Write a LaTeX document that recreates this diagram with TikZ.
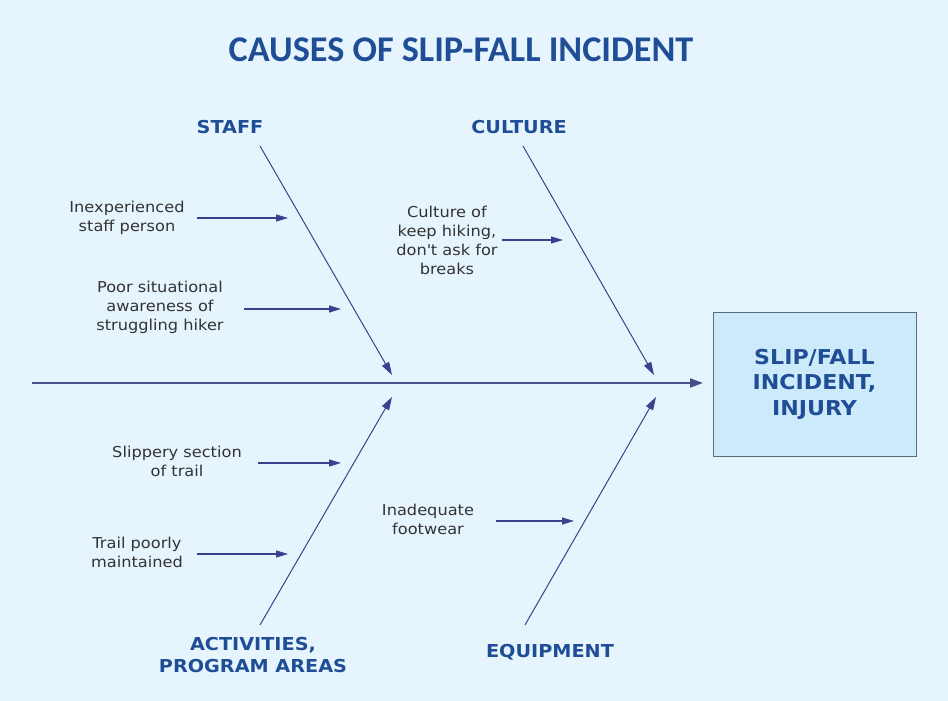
\documentclass[tikz,border=0pt]{standalone}
\usepackage{fontspec}
\setmainfont{DejaVu Sans}
\newfontfamily\titlefont{Carlito}
\newfontfamily\widefont{DejaVu Sans}[FakeStretch=1.08]
\usetikzlibrary{arrows.meta}
\definecolor{bgc}{HTML}{E6F5FD}
\definecolor{boxfill}{HTML}{CCEAFA}
\definecolor{boxline}{HTML}{5B6B7E}
\definecolor{headblue}{HTML}{1F4E96}
\definecolor{arrowc}{HTML}{3C418F}
\definecolor{bonec}{HTML}{4A5068}
\definecolor{spinec}{HTML}{45508A}
\definecolor{txt}{HTML}{333333}
\tikzset{
  titlestyle/.style={font=\titlefont\bfseries\fontsize{36.2}{40}\selectfont, text=headblue},
  catlabel/.style={font=\widefont\bfseries\fontsize{17.8}{22}\selectfont, text=headblue, align=center},
  causetext/.style={font=\widefont\fontsize{15}{19}\selectfont, text=txt, align=center, inner sep=0pt},
  effectbox/.style={draw=boxline, fill=boxfill, line width=0.9pt, minimum width=203pt, minimum height=144pt, align=center, font=\widefont\bfseries\fontsize{20.5}{25.5}\selectfont, text=headblue},
  bone/.style={draw=bonec, line width=1pt, -{Triangle[length=13pt,width=8pt]}, arrowc},
  causearrow/.style={draw=arrowc, line width=1.1pt, -{Triangle[length=12pt,width=7pt]}},
  spine/.style={draw=spinec, line width=2.2pt, -{Triangle[length=13pt,width=9pt]}}
}
\begin{document}
\begin{tikzpicture}[x=1pt,y=-1pt]
\fill[bgc] (0,0) rectangle (948,701);
\useasboundingbox (0,0) rectangle (948,701);

\node[titlestyle] (title) at (461,50) {CAUSES OF SLIP-FALL INCIDENT};

% effect
\node[effectbox] (effect) at (814.5,384) {SLIP/FALL\\INCIDENT,\\INJURY};

% spine
\coordinate (tail) at (32,383);
\coordinate (head) at (703,383);
\draw[spine] (tail) -- (head);

% category labels
\node[catlabel] (staff) at (230,127) {STAFF};
\node[catlabel] (culture) at (519,127) {CULTURE};
\node[catlabel] (activities) at (253,655) {ACTIVITIES,\\PROGRAM AREAS};
\node[catlabel] (equipment) at (550,652) {EQUIPMENT};

% bones
\coordinate (staffA) at (260,146);
\coordinate (staffB) at (392,375);
\coordinate (cultA) at (523,146);
\coordinate (cultB) at (654,375);
\coordinate (actA) at (260,625);
\coordinate (actB) at (392,397);
\coordinate (equA) at (525,625);
\coordinate (equB) at (656,397);
\draw[bone] (staffA) -- (staffB);
\draw[bone] (cultA) -- (cultB);
\draw[bone] (actA) -- (actB);
\draw[bone] (equA) -- (equB);

% causes
\node[causetext] (c1) at (127,218) {Inexperienced\\staff person};
\node[causetext] (c2) at (160,307) {Poor situational\\awareness of\\struggling hiker};
\node[causetext] (c3) at (447,240) {Culture of\\keep hiking,\\don\textquotesingle t ask for\\breaks};
\node[causetext] (c4) at (177,461) {Slippery section\\of trail};
\node[causetext] (c5) at (137,552) {Trail poorly\\maintained};
\node[causetext] (c6) at (428,519) {Inadequate\\footwear};

\coordinate (a1s) at (197,218); \coordinate (a1e) at (288,218);
\coordinate (a2s) at (244,309); \coordinate (a2e) at (341,309);
\coordinate (a3s) at (502,240); \coordinate (a3e) at (563,240);
\coordinate (a4s) at (258,463); \coordinate (a4e) at (341,463);
\coordinate (a5s) at (197,554); \coordinate (a5e) at (288,554);
\coordinate (a6s) at (496,521); \coordinate (a6e) at (574,521);
\draw[causearrow] (a1s) -- (a1e);
\draw[causearrow] (a2s) -- (a2e);
\draw[causearrow] (a3s) -- (a3e);
\draw[causearrow] (a4s) -- (a4e);
\draw[causearrow] (a5s) -- (a5e);
\draw[causearrow] (a6s) -- (a6e);
\end{tikzpicture}
\end{document}
